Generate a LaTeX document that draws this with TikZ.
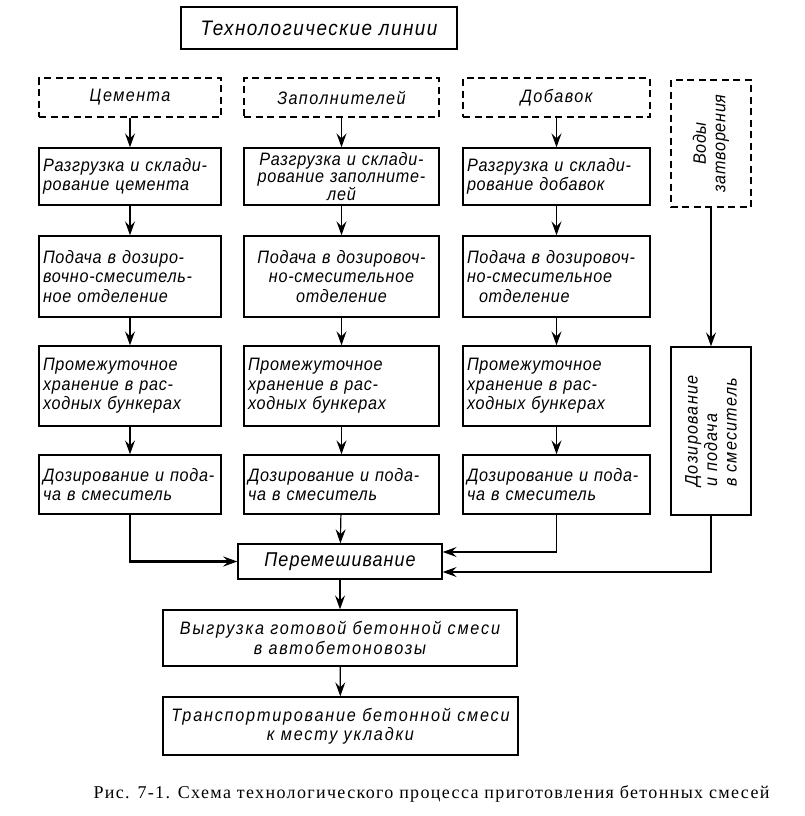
\documentclass[tikz,border=0pt]{standalone}
\usepackage{fontspec}
\setmainfont{Liberation Serif}
\newfontfamily\gostfont[FakeStretch=0.9]{Liberation Sans}
\newfontfamily\capfont[LetterSpace=7.5]{Liberation Serif}
\usetikzlibrary{arrows.meta}
\begin{document}
	\begin{tikzpicture}[x=1pt, y=-1pt,
		stage/.style={draw, line width=1.4pt, inner sep=4pt, align=left,
			font=\gostfont\itshape\fontsize{18}{19.5}\selectfont\addfontfeatures{LetterSpace=4}},
		source/.style={stage, align=center, dash pattern=on 7pt off 4.5pt,
			font=\gostfont\itshape\fontsize{18}{19.5}\selectfont\addfontfeatures{LetterSpace=8}},
		wide/.style={stage, align=center,
			font=\gostfont\itshape\fontsize{18}{19.5}\selectfont\addfontfeatures{LetterSpace=10}},
		link/.style={-{Stealth[length=14pt, width=10pt, inset=5pt]}, line width=1.2pt}]
		\useasboundingbox ( 0, 0 ) rectangle ( 804, 816 );

		% заголовок
		\node [stage, align=center, minimum width=276pt, minimum height=42pt,
			font=\gostfont\itshape\fontsize{21}{23}\selectfont\addfontfeatures{LetterSpace=7}] (title) at ( 319, 28 ) {Технологические линии};

		% технологические линии
		\node [source, minimum width=182pt, minimum height=39pt] (cem1) at ( 130, 97.5 ) {Цемента};
		\node [source, minimum width=195pt, minimum height=39pt] (fil1) at ( 341.5, 97.5 ) {Заполнителей};
		\node [source, minimum width=187pt, minimum height=39pt] (add1) at ( 556.5, 97.5 ) {Добавок};
		\node [source, rotate=90, minimum width=127pt, minimum height=80pt,
			font=\gostfont\itshape\fontsize{18}{19.5}\selectfont\addfontfeatures{LetterSpace=4}] (wsrc) at ( 711, 143.5 ) {Воды\\затворения};

		% разгрузка и складирование
		\node [stage, text width=174pt, minimum height=57pt] (cem2) at ( 130, 176.5 ) {Разгрузка и склади-\\рование цемента};
		\node [stage, align=center, text width=187pt, minimum height=57pt,
			font=\gostfont\itshape\fontsize{18}{17}\selectfont\addfontfeatures{LetterSpace=4}] (fil2) at ( 341.5, 176.5 ) {Разгрузка и склади-\\рование заполните-\\лей};
		\node [stage, text width=179pt, minimum height=57pt] (add2) at ( 556.5, 176.5 ) {Разгрузка и склади-\\рование добавок};

		% подача в дозировочно-смесительное отделение
		\node [stage, text width=174pt, minimum height=81pt] (cem3) at ( 130, 276.5 ) {Подача в дозиро-\\вочно-смеситель-\\ное отделение\\[4pt]};
		\node [stage, align=center, text width=187pt, minimum height=81pt] (fil3) at ( 341.5, 276.5 ) {Подача в дозировоч-\\но-смесительное\\отделение\\[4pt]};
		\node [stage, text width=179pt, minimum height=81pt] (add3) at ( 556.5, 276.5 ) {Подача в дозировоч-\\но-смесительное\\\ \ отделение\\[4pt]};

		% промежуточное хранение
		\node [stage, text width=174pt, minimum height=80pt] (cem4) at ( 130, 386 ) {Промежуточное\\хранение в рас-\\ходных бункерах};
		\node [stage, text width=187pt, minimum height=80pt] (fil4) at ( 341.5, 386 ) {Промежуточное\\хранение в рас-\\ходных бункерах};
		\node [stage, text width=179pt, minimum height=80pt] (add4) at ( 556.5, 386 ) {Промежуточное\\хранение в рас-\\ходных бункерах};

		% дозирование и подача в смеситель
		\node [stage, text width=174pt, minimum height=59pt] (cem5) at ( 130, 484.5 ) {Дозирование и пода-\\ча в смеситель};
		\node [stage, text width=187pt, minimum height=59pt] (fil5) at ( 341.5, 484.5 ) {Дозирование и пода-\\ча в смеситель};
		\node [stage, text width=179pt, minimum height=59pt] (add5) at ( 556.5, 484.5 ) {Дозирование и пода-\\ча в смеситель};
		\node [stage, rotate=90, minimum width=168pt, minimum height=80pt,
			font=\gostfont\itshape\fontsize{18}{19.5}\selectfont\addfontfeatures{LetterSpace=7}] (wdos) at ( 711, 431 ) {Дозирование\\и подача\\в смеситель};

		% перемешивание, выгрузка, транспортирование
		\node [stage, align=center, minimum width=204pt, minimum height=35pt,
			font=\gostfont\itshape\fontsize{20}{22}\selectfont\addfontfeatures{LetterSpace=5}] (mix) at ( 340, 561.5 ) {Перемешивание};
		\node [wide, minimum width=354pt, minimum height=56pt] (unld) at ( 340, 638 ) {Выгрузка готовой бетонной смеси\\в автобетоновозы};
		\node [wide, minimum width=355pt, minimum height=58pt] (trns) at ( 340.5, 726 ) {Транспортирование бетонной смеси\\к месту укладки};

		% стрелки по линиям
		\foreach \line in {cem, fil, add} {
			\draw [link] (\line1) -- (\line2);
			\draw [link] (\line2) -- (\line3);
			\draw [link] (\line3) -- (\line4);
			\draw [link] (\line4) -- (\line5);
		}
		\draw [link] (wsrc.west) -- (wdos.east);

		% подача в смеситель
		\draw [link, line width=2.6pt] (cem5.south) |- (mix.west);
		\draw [link] (fil5) -- (mix);
		\draw [link] (add5.south) |- ([yshift=9.5pt]mix.east);
		\draw [link] (wdos.west) |- ([yshift=-10.5pt]mix.east);
		\draw [link] (mix) -- (unld);
		\draw [link] (unld) -- (trns);

		% подпись
		\node [font=\capfont\fontsize{18}{20}\selectfont, anchor=base west] (caption) at ( 90, 798 ) {Рис. 7-1. Схема технологического процесса приготовления бетонных смесей};
	\end{tikzpicture}
\end{document}
